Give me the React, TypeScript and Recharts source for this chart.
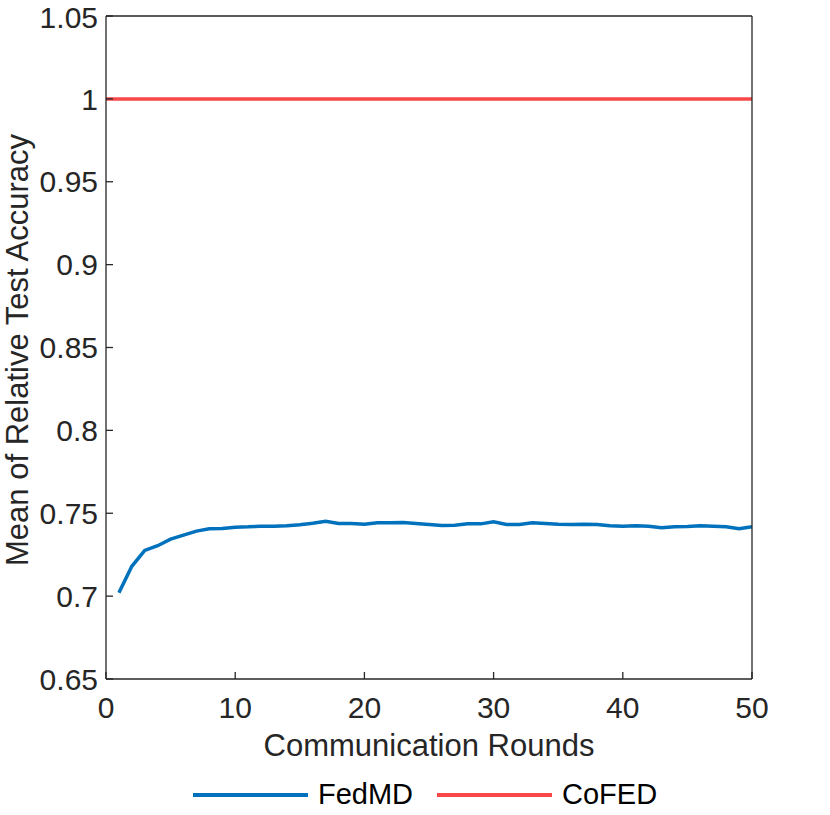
import { LineChart, Line, XAxis, YAxis, Legend, Label } from "recharts";

// rounds and FedMD mean relative accuracy
const rounds = [
  1, 2, 3, 4, 5, 6, 7, 8, 9, 10, 11, 12, 13, 14, 15, 16, 17, 18, 19, 20, 21, 22, 23, 24, 25,
  26, 27, 28, 29, 30, 31, 32, 33, 34, 35, 36, 37, 38, 39, 40, 41, 42, 43, 44, 45, 46, 47, 48,
  49, 50,
];
const fedmd = [
  0.702, 0.718, 0.7276, 0.7304, 0.7344, 0.7368, 0.7392, 0.7406, 0.7408, 0.7416, 0.7418, 0.7422,
  0.7422, 0.7424, 0.743, 0.744, 0.7452, 0.7438, 0.7438, 0.7434, 0.7442, 0.7442, 0.7444, 0.7438,
  0.7432, 0.7426, 0.7428, 0.7436, 0.7436, 0.7448, 0.7432, 0.7432, 0.7442, 0.7438, 0.7434,
  0.7432, 0.7434, 0.7432, 0.7424, 0.7422, 0.7424, 0.7422, 0.7412, 0.7418, 0.742, 0.7424,
  0.7422, 0.7418, 0.7406, 0.7418,
];
// CoFED is the reference, drawn flat across the whole range
const cofedRounds = [0, 50];
const cofed = [1, 1];

const xTicks = [0, 10, 20, 30, 40, 50];
const yTicks = [0.65, 0.7, 0.75, 0.8, 0.85, 0.9, 0.95, 1, 1.05];

const AXIS = "#262626";
const BLUE = "#0072bd";
const RED = "#f94848";
const FONT = "'Liberation Sans', Arial, Helvetica, sans-serif";

const fedmdData = rounds.map((r, i) => ({ round: r, fedmd: fedmd[i] }));
const cofedData = cofedRounds.map((r, i) => ({ round: r, cofed: cofed[i] }));

const legendItems = [
  { name: "FedMD", color: BLUE },
  { name: "CoFED", color: RED },
];

const ChartLegend = () => (
  <div
    style={{
      height: 41,
      display: "flex",
      alignItems: "center",
      justifyContent: "center",
      paddingLeft: 97,
      fontFamily: FONT,
      fontSize: 29,
      color: "#000",
    }}
  >
    {legendItems.map((item) => (
      <div key={item.name} style={{ display: "flex", alignItems: "center", margin: "0 12px" }}>
        <div style={{ width: 115, height: 4, background: item.color, marginRight: 10 }} />
        <span>{item.name}</span>
      </div>
    ))}
  </div>
);

const YTitle = () => (
  <text
    x={28}
    y={350}
    transform="rotate(-90 28 350)"
    textAnchor="middle"
    fontFamily={FONT}
    fontSize={31}
    fill={AXIS}
  >
    Mean of Relative Test Accuracy
  </text>
);

export default function App() {
  const tickStyle = { fontFamily: FONT, fontSize: 30, fill: AXIS };
  const axisLine = { stroke: AXIS, strokeWidth: 1.3 };

  return (
    <div style={{ position: "absolute", left: 0, top: 0, width: 830, height: 815 }}>
      <LineChart
        width={830}
        height={815}
        data={fedmdData}
        margin={{ top: 15, right: 77, bottom: 0, left: 0 }}
      >
        <XAxis
          xAxisId="bottom"
          dataKey="round"
          type="number"
          domain={[0, 50]}
          ticks={xTicks}
          height={95}
          tickSize={-7}
          tickMargin={25}
          axisLine={axisLine}
          tickLine={axisLine}
          tick={tickStyle}
        >
          <Label
            value="Communication Rounds"
            position="insideTop"
            offset={55}
            style={{ fontFamily: FONT, fontSize: 31, fill: AXIS }}
          />
        </XAxis>
        <XAxis
          xAxisId="top"
          orientation="top"
          dataKey="round"
          type="number"
          domain={[0, 50]}
          ticks={xTicks}
          height={1}
          tickSize={-7}
          tick={false}
          axisLine={axisLine}
          tickLine={axisLine}
        />
        <YAxis
          yAxisId="left"
          type="number"
          domain={[0.65, 1.05]}
          ticks={yTicks}
          width={106}
          tickSize={-7}
          tickMargin={15}
          axisLine={axisLine}
          tickLine={axisLine}
          tick={tickStyle}
          tickFormatter={(v) => String(v)}
        >
          <Label content={<YTitle />} />
        </YAxis>
        <YAxis
          yAxisId="right"
          orientation="right"
          type="number"
          domain={[0.65, 1.05]}
          ticks={yTicks}
          width={1}
          tickSize={-7}
          tick={false}
          axisLine={axisLine}
          tickLine={axisLine}
        />
        <Legend verticalAlign="bottom" content={<ChartLegend />} />
        <Line
          xAxisId="bottom"
          yAxisId="left"
          dataKey="fedmd"
          name="FedMD"
          stroke={BLUE}
          strokeWidth={3.5}
          dot={false}
          activeDot={false}
          isAnimationActive={false}
        />
        <Line
          xAxisId="bottom"
          yAxisId="left"
          data={cofedData}
          dataKey="cofed"
          name="CoFED"
          stroke={RED}
          strokeWidth={3.5}
          dot={false}
          activeDot={false}
          isAnimationActive={false}
        />
      </LineChart>
    </div>
  );
}
